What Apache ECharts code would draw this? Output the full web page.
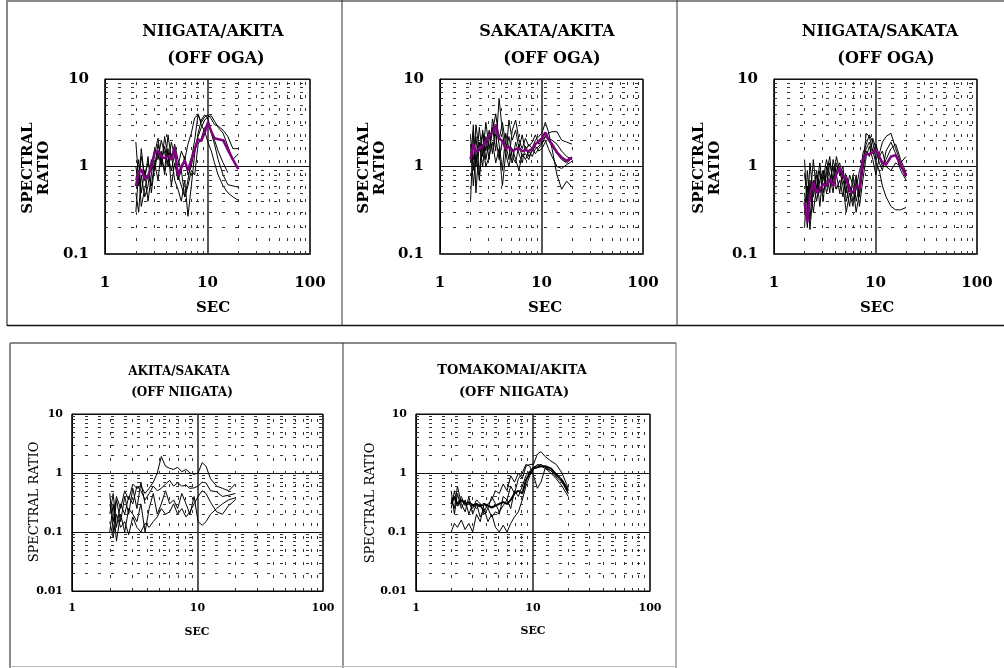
<!DOCTYPE html>
<html><head><meta charset="utf-8">
<script src="https://cdn.jsdelivr.net/npm/echarts@6/dist/echarts.min.js"></script>
<style>html,body{margin:0;padding:0;background:#fff}#c{width:1004px;height:668px}</style>
</head><body><div id="c"></div>
<script>
// Periods (sec) at which the curves were read
const PERIODS = [2.0, 2.13, 2.26, 2.44, 2.63, 2.83, 3.05, 3.29, 3.54, 3.82, 4.12, 4.44, 4.78, 5.15, 5.56, 6.0, 6.45, 6.95, 7.5, 8.1, 8.7, 9.4, 10.1, 10.9, 11.7, 12.7, 14.2, 15.8, 17.7, 20.0];
const X_TICKS = [1, 10, 100];

// NIIGATA/AKITA (OFF OGA)
const NA_1 = [1.9,0.7,1.3,0.8,1.1, 0.9,1.6,1.2,2.0,1.4, 1.1,1.9,1.3,1.0,1.5, 1.2,1.8,2.4,3.6,3.9, 3.2,3.7,3.9,3.5,3.0, 2.9,2.6,2.2,1.6,1.6];
const NA_2 = [0.5,0.3,0.8,0.45,0.6, 1.2,0.9,1.5,1.0,2.2, 1.3,0.9,1.4,0.8,0.6, 0.45,0.7,1.2,2.0,4.0, 3.0,2.5,1.9,1.5,1.1, 0.8,0.6,0.5,0.45,0.41];
const NA_3 = [0.7,1.2,0.5,0.9,0.4, 0.8,1.4,2.1,1.1,1.7, 1.0,1.4,0.7,0.55,0.4, 0.7,0.27,0.6,1.4,2.4, 3.4,3.9,3.5,2.4,1.8, 1.2,0.8,0.62,0.6,0.58];
const NA_4 = [1.0,0.6,1.6,0.7,1.3, 0.5,1.0,1.8,1.2,0.9, 2.3,1.2,1.8,1.2,0.9, 1.3,0.8,1.0,1.6,2.2, 2.8,3.4,3.7,3.8,3.3, 2.8,2.4,1.7,1.2,1.4];
const NA_5 = [0.3,0.9,0.35,0.55,0.8, 0.6,1.1,0.7,1.5,0.8, 1.6,0.6,1.1,0.7,0.9, 0.45,0.6,0.9,0.8,1.8, 2.1,2.8,3.0,2.6,2.0, 1.5,1.1,0.85,null,null];
const NA_AVG = [0.6,0.85,0.93,0.72,0.78, 1.0,1.45,1.5,1.3,1.25, 1.32,1.2,1.65,0.78,1.0, 1.16,0.9,1.2,1.58,2.05, 1.95,2.45,3.2,2.5,2.1, 2.05,2.0,1.55,1.2,0.93];

// SAKATA/AKITA (OFF OGA)
const SA_1 = [2.2,0.9,3.0,1.5,2.4, 1.2,2.0,2.8,1.5,6.0, 2.5,1.3,3.4,2.0,2.6, 1.6,2.3,1.5,1.8,1.6, 2.0,2.2,2.4,3.2,2.5, 1.6,0.8,0.55,0.68,0.58];
const SA_2 = [0.4,2.5,1.0,2.8,1.3, 3.2,1.6,2.5,4.0,2.0, 3.2,1.8,1.2,2.6,3.4, 2.0,1.6,2.1,1.7,1.9, 2.3,1.8,2.0,2.2,2.4, 2.5,2.5,2.0,1.9,1.8];
const SA_3 = [1.8,0.6,1.4,0.7,1.8, 1.0,1.3,1.9,1.1,1.6, 0.6,1.4,1.0,1.6,1.2, 0.9,1.4,1.2,1.5,1.3, 1.6,1.7,1.9,2.0,1.6, 1.3,1.0,0.95,1.05,1.15];
const SA_4 = [1.1,3.0,0.5,1.9,1.0, 2.2,1.2,3.5,2.2,1.2, 2.0,1.5,2.2,1.3,1.1, 1.8,1.3,1.4,1.2,1.6, 1.4,1.6,1.8,2.2,2.0, 1.7,1.4,1.2,1.1,1.25];
const SA_5 = [1.5,1.2,2.2,0.8,2.6, 1.5,2.6,1.4,3.0,1.8, 0.9,2.4,1.6,1.1,1.9, 1.4,1.1,1.7,1.3,1.5, 1.7,1.5,1.6,1.9,2.1, 2.0,1.8,1.5,1.3,1.2];
const SA_AVG = [1.21,1.8,1.45,1.6,1.7, 1.95,2.24,2.45,3.0,2.1, 1.95,1.58,1.7,1.5,1.58, 1.6,1.5,1.55,1.5,1.6, 1.8,1.95,2.1,2.45,2.05, 1.8,1.45,1.27,1.16,1.27];

// NIIGATA/SAKATA (OFF OGA)
const NS_1 = [1.2,0.3,1.1,0.45,0.8, 0.35,0.9,0.6,1.1,0.7, 1.3,0.9,0.6,0.3,0.5, 0.35,0.7,0.45,1.0,2.4, 2.2,1.5,1.1,0.9,0.6, 0.45,0.35,0.32,0.32,0.34];
const NS_2 = [0.2,0.9,0.4,1.2,0.5, 0.9,0.4,1.0,0.5,1.2, 0.8,0.5,0.9,0.6,0.35, 0.8,0.4,0.6,1.4,1.8, 2.3,1.9,1.2,1.4,1.9, 2.2,2.4,1.6,1.1,1.3];
const NS_3 = [0.5,0.2,0.7,0.3,0.6, 1.1,0.5,0.8,1.3,0.6, 0.9,1.1,0.7,0.5,0.8, 0.6,0.3,0.5,0.9,1.5, 1.3,2.1,1.6,1.1,0.9, 1.5,1.9,1.4,0.9,0.7];
const NS_4 = [0.8,0.45,0.25,0.7,0.4, 0.7,0.9,0.5,0.7,1.0, 0.55,0.7,0.45,0.8,0.6, 0.4,0.55,0.9,1.2,1.6, 1.9,1.4,1.8,1.3,1.0, 1.2,1.6,1.8,1.2,0.85];
const NS_5 = [0.3,0.6,0.19,0.55,0.9, 0.5,0.7,1.2,0.8,0.5, 1.1,0.8,1.0,0.4,0.6, 0.5,0.8,0.35,0.7,1.3, 1.7,1.2,0.8,1.3,1.5, 1.0,0.9,1.1,1.0,0.75];
const NS_AVG = [0.39,0.23,0.46,0.66,0.5, 0.55,0.63,0.6,0.72,0.6, 0.82,0.97,0.78,0.72,0.53, 0.5,0.6,0.57,1.2,1.4, 1.38,1.45,1.55,1.3,1.1, 1.05,1.3,1.35,1.05,0.78];

// AKITA/SAKATA (OFF NIIGATA)
const AS_1 = [0.3,0.15,0.4,0.25,0.5, 0.35,0.65,0.55,0.6,0.45, 0.55,0.7,1.0,1.9,1.3, 1.2,1.15,1.25,1.05,1.15, 1.0,0.95,1.0,1.5,1.3, 0.8,0.6,0.55,0.5,0.65];
const AS_2 = [0.2,0.45,0.12,0.3,0.2, 0.4,0.3,0.6,0.5,0.35, 0.45,0.6,0.5,0.55,0.65, 0.75,0.6,0.68,0.6,0.62, 0.55,0.56,0.6,0.7,0.68, 0.5,0.48,0.4,0.42,0.45];
const AS_3 = [0.1,0.3,0.07,0.2,0.1, 0.25,0.2,0.15,0.3,0.1, 0.25,0.45,0.2,0.3,0.5, 0.3,0.35,0.25,0.45,0.3, 0.2,0.4,0.15,0.13,0.15, 0.2,0.25,0.3,0.35,0.38];
const AS_4 = [0.15,0.08,0.2,0.12,0.15, 0.09,0.18,0.12,0.1,0.14, 0.12,0.15,0.18,0.25,0.2, 0.22,0.3,0.2,0.25,0.18, 0.22,0.3,0.4,0.5,0.45, 0.32,0.22,0.2,0.28,0.35];
const AS_5 = [0.45,0.1,0.35,0.15,0.4, 0.2,0.55,0.25,0.7,0.3, null,null,null,null,null, null,null,null,null,null, null,null,null,null,null, null,null,null,null,null];

// TOMAKOMAI/AKITA (OFF NIIGATA)
const TA_1 = [0.25,0.5,0.3,0.4,0.28, 0.3,0.25,0.35,0.3,0.22, 0.3,0.35,0.5,0.45,0.65, 0.5,0.9,0.7,1.0,0.8, 1.3,1.4,1.4,2.1,2.3, 1.9,1.6,1.4,1.0,0.55];
const TA_2 = [0.3,0.4,0.28,0.35,0.3, 0.32,0.28,0.3,0.27,0.3, 0.28,0.26,0.28,0.3,0.32, 0.3,0.35,0.45,0.5,0.45, 0.75,1.0,1.2,1.25,1.3, 1.3,1.2,0.95,0.75,0.5];
const TA_3 = [0.5,0.2,0.45,0.25,0.35, 0.2,0.3,0.25,0.3,0.2, 0.25,0.18,0.22,0.2,0.4, 0.35,0.6,0.45,0.8,1.0, 1.4,1.3,0.9,0.55,0.7, 1.2,1.1,0.85,0.7,0.45];
const TA_4 = [0.35,0.25,0.6,0.3,0.22, 0.4,0.2,0.3,0.18,0.25, 0.15,0.2,0.12,0.1,0.13, 0.1,0.14,0.18,0.22,0.35, 0.6,0.9,1.2,1.4,1.3, 1.2,1.0,0.8,0.6,0.4];
const TA_5 = [0.1,0.14,0.12,0.16,0.11, 0.14,0.1,0.2,0.15,0.3, 0.25,0.4,0.3,0.22,0.28, 0.35,0.25,0.5,0.4,0.6, 0.9,1.1,1.25,1.35,1.4, 1.25,1.1,0.9,0.75,0.45];

const TOP_FONT = "'DejaVu Serif', serif";
const PANELS = [
  {grid:{left:105,top:79,width:205,height:175}, ymin:0.1, ymax:10, lines:[NA_1,NA_2,NA_3,NA_4,NA_5], avg:NA_AVG, thick:[], big:true},
  {grid:{left:440,top:79,width:203,height:175}, ymin:0.1, ymax:10, lines:[SA_1,SA_2,SA_3,SA_4,SA_5], avg:SA_AVG, thick:[], big:true},
  {grid:{left:774,top:79,width:203,height:175}, ymin:0.1, ymax:10, lines:[NS_1,NS_2,NS_3,NS_4,NS_5], avg:NS_AVG, thick:[], big:true},
  {grid:{left:72,top:414,width:251,height:177}, ymin:0.01, ymax:10, lines:[AS_1,AS_2,AS_3,AS_4,AS_5], avg:null, thick:[], big:false},
  {grid:{left:416,top:414,width:234,height:177}, ymin:0.01, ymax:10, lines:[TA_1,TA_2,TA_3,TA_4,TA_5], avg:null, thick:[1], big:false}
];

function toData(arr){
  const out = [];
  PERIODS.forEach((p,i)=>{ if(arr[i]!=null) out.push([p, arr[i]]); });
  return out;
}
function minorMarks(ymin, ymax){
  const a = [];
  for (let d=1; d<100; d*=10) for (let k=2;k<=9;k++) a.push({xAxis:k*d});
  for (let d=ymin; d<ymax*0.999; d*=10) for (let k=2;k<=9;k++) a.push({yAxis:+(k*d).toPrecision(3)});
  return a;
}

const grids=[], xAxes=[], yAxes=[], series=[];
PANELS.forEach((P, gi)=>{
  grids.push(Object.assign({show:true, borderColor:'#000', borderWidth:1, backgroundColor:'transparent'}, P.grid));
  const fs = P.big ? 15 : 11;
  xAxes.push({type:'log', logBase:10, min:1, max:100, gridIndex:gi,
    axisLine:{show:true, onZero:false, lineStyle:{color: P.big ? '#333' : '#000', width: P.big ? 2 : 1}},
    axisTick:{show:false},
    axisLabel:{show:true, color:'#000', fontFamily:TOP_FONT, fontWeight:'bold', fontSize:fs, margin: P.big ? 22 : 12},
    splitLine:{show:true, lineStyle:{color:'#222', width:1.5}}});
  yAxes.push({type:'log', logBase:10, min:P.ymin, max:P.ymax, gridIndex:gi,
    axisLine:{show:true, onZero:false, lineStyle:{color:'#000', width:1}},
    axisTick:{show:false},
    axisLabel:{show:true, color:'#000', fontFamily:TOP_FONT, fontWeight:'bold', fontSize:fs, margin: P.big ? 16 : 9},
    splitLine:{show:true, lineStyle:{color:'#111', width:1}}});
  // minor dashed grid carried by a silent helper series
  series.push({type:'line', xAxisIndex:gi, yAxisIndex:gi, data:[], silent:true, animation:false,
    markLine:{silent:true, animation:false, symbol:['none','none'], label:{show:false},
      lineStyle:{type:[3,10], color:'#333', width:1}, emphasis:{disabled:true}, data:minorMarks(P.ymin, P.ymax)}});
  P.lines.forEach((arr, li)=>{
    series.push({type:'line', xAxisIndex:gi, yAxisIndex:gi, data:toData(arr), showSymbol:false, symbol:'none',
      animation:false, silent:true, z:3,
      lineStyle:{color:'#000', width: P.thick.includes(li) ? 2 : 1}});
  });
  if (P.avg){
    series.push({type:'line', xAxisIndex:gi, yAxisIndex:gi, data:toData(P.avg), showSymbol:false, symbol:'none',
      animation:false, silent:true, z:5, lineStyle:{color:'#800080', width:2.5}});
  }
});

function txt(x,y,text,font,rot,lh){
  return {type:'text', x:x, y:y, rotation: rot||0, silent:true, z:10,
    style:{text:text, font:font, fill:'#000', align:'center', verticalAlign:'middle',
      textAlign:'center', textVerticalAlign:'middle', lineHeight: lh||undefined}};
}
function ln(x1,y1,x2,y2,color,w){
  return {type:'line', silent:true, z:10, shape:{x1:x1,y1:y1,x2:x2,y2:y2}, style:{stroke:color, lineWidth:w}};
}
const TF = "bold 16px 'DejaVu Serif'";
const AF = "bold 15px 'DejaVu Serif'";
const graphics = [
  ln(7,1,1004,1,'#888',2), ln(7,0,7,326,'#888',2), ln(7,325.5,1004,325.5,'#111',1.5),
  ln(342,0,342,326,'#333',1), ln(677,0,677,326,'#333',1),
  ln(10,343,676,343,'#888',2), ln(10,343,10,668,'#888',2), ln(343,343,343,668,'#333',1),
  ln(676,343,676,668,'#666',1), ln(10,666.5,676,666.5,'#bbb',1),
  txt(213,32,'NIIGATA/AKITA',TF), txt(216,59,'(OFF OGA)',TF),
  txt(547,32,'SAKATA/AKITA',TF), txt(552,59,'(OFF OGA)',TF),
  txt(880,32,'NIIGATA/SAKATA',TF), txt(886,59,'(OFF OGA)',TF),
  txt(36,168,'SPECTRAL\nRATIO',AF,Math.PI/2,16), txt(372,168,'SPECTRAL\nRATIO',AF,Math.PI/2,16), txt(707,168,'SPECTRAL\nRATIO',AF,Math.PI/2,16),
  txt(213,308,'SEC',AF), txt(545,308,'SEC',AF), txt(877,308,'SEC',AF),
  txt(179,372,'AKITA/SAKATA',"bold 12px 'DejaVu Serif'"), txt(182,393,'(OFF NIIGATA)',"bold 12px 'DejaVu Serif'"),
  txt(512,371,'TOMAKOMAI/AKITA',"bold 13px 'DejaVu Serif'"), txt(514,393,'(OFF NIIGATA)',"bold 13px 'DejaVu Serif'"),
  txt(35,502,'SPECTRAL RATIO',"13px 'DejaVu Serif'",Math.PI/2), txt(371,503,'SPECTRAL RATIO',"13px 'DejaVu Serif'",Math.PI/2),
  txt(197,632,'SEC',"bold 11px 'DejaVu Serif'"), txt(533,631,'SEC',"bold 11px 'DejaVu Serif'")
];

const chart = echarts.init(document.getElementById('c'));
chart.setOption({
  backgroundColor:'#fff', animation:false,
  grid:grids, xAxis:xAxes, yAxis:yAxes, series:series, graphic:graphics
});
</script>
</body></html>
